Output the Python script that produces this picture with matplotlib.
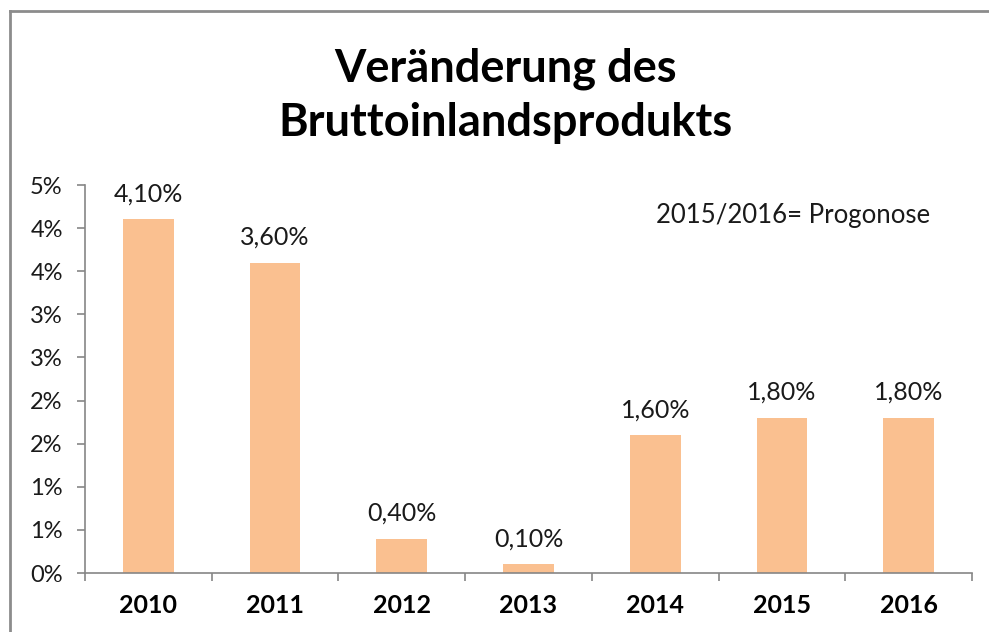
import matplotlib
matplotlib.use("Agg")
import matplotlib.pyplot as plt
from matplotlib.lines import Line2D
import numpy as np

years = ["2010", "2011", "2012", "2013", "2014", "2015", "2016"]
values = [4.1, 3.6, 0.4, 0.1, 1.6, 1.8, 1.8]
ytick_values = [0, 0.5, 1.0, 1.5, 2.0, 2.5, 3.0, 3.5, 4.0, 4.5]
ytick_labels = ["0%", "1%", "1%", "2%", "2%", "3%", "3%", "4%", "4%", "5%"]
title_text = "Veränderung des\nBruttoinlandsprodukts"
note_text = "2015/2016= Progonose"

plt.rcParams['font.family'] = ['Lato', 'DejaVu Sans']

W, H = 989, 632
fig = plt.figure(figsize=(W / 100, H / 100), dpi=100)
fig.patch.set_facecolor("white")

ax = fig.add_axes([85 / W, 1 - 573 / H, (972 - 85) / W, (573 - 185) / H])
x = np.arange(len(years))
ax.bar(x, values, width=0.40, color="#FAC090", zorder=2)

ax.set_xlim(-0.5, len(years) - 0.5)
ax.set_ylim(0, 4.5)
gray = "#868686"
for s in ["top", "right"]:
    ax.spines[s].set_visible(False)
for s in ["left", "bottom"]:
    ax.spines[s].set_color(gray)
    ax.spines[s].set_linewidth(1.2)

ax.set_yticks(ytick_values)
ax.set_yticklabels(ytick_labels, fontsize=17, color="#1a1a1a")
ax.tick_params(axis="y", direction="out", length=6, width=1.2, color=gray, pad=10)

ax.set_xticks(x)
ax.set_xticklabels(years, fontsize=18, fontweight="bold", color="#000000")
ax.tick_params(axis="x", which="major", length=0, pad=15)
ax.set_xticks(np.arange(-0.5, len(years), 1.0), minor=True)
ax.tick_params(axis="x", which="minor", direction="out", length=6, width=1.2, color=gray)

for xi, v in zip(x, values):
    ax.annotate(f"{v:.2f}%".replace(".", ","), (xi, v), xytext=(0, 10),
                textcoords="offset points", ha="center", va="bottom",
                fontsize=18, color="#1a1a1a")

fig.text(793 / W, 1 - 215 / H, note_text, ha="center", va="center",
         fontsize=18.5, color="#1a1a1a")

fig.text(506 / W, 1 - 96 / H, title_text, ha="center", va="center",
         fontsize=32.5, fontweight="bold", color="#000000", linespacing=1.35)

# outer frame
lw = 2.0
fig.add_artist(Line2D([10 / W, 10 / W], [1 - 11 / H, 0], transform=fig.transFigure,
                      color="#8c8c8c", linewidth=lw))
fig.add_artist(Line2D([10 / W, 1], [1 - 11 / H, 1 - 11 / H], transform=fig.transFigure,
                      color="#8c8c8c", linewidth=lw))

fig.savefig("out.png", dpi=100)
